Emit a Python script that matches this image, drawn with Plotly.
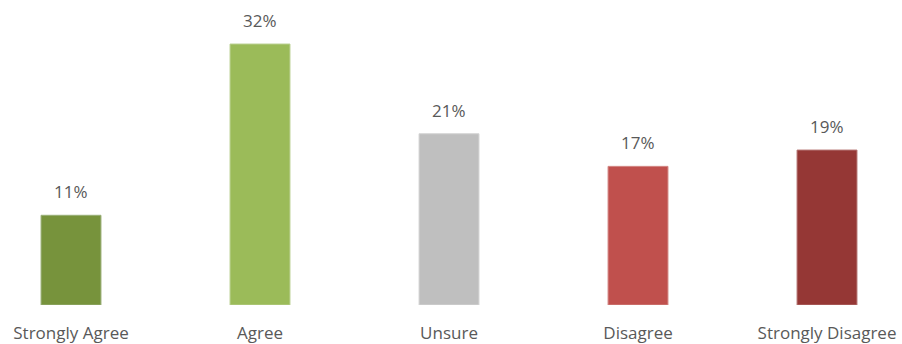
import plotly.graph_objects as go

categories = ["Strongly Agree", "Agree", "Unsure", "Disagree", "Strongly Disagree"]
values = [11, 32, 21, 17, 19]
labels = ["11%", "32%", "21%", "17%", "19%"]
colors = ["#77933C", "#9BBB59", "#BFBFBF", "#C0504D", "#953735"]
edge_colors = ["#9AAF78", "#B9CF8F", "#D4D4D4", "#D38885", "#B57573"]

FONT = "Open Sans, Lato, sans-serif"
TEXT_COLOR = "#595959"

fig = go.Figure(
    go.Bar(
        x=list(range(len(categories))),
        y=values,
        marker=dict(color=colors, line=dict(color=edge_colors, width=1)),
        width=0.317,
    )
)

# value labels placed above each bar
for i, (v, lab) in enumerate(zip(values, labels)):
    fig.add_annotation(
        x=i, y=v, text=lab, showarrow=False,
        yanchor="bottom", yshift=10,
        font=dict(family=FONT, size=17, color=TEXT_COLOR),
    )

fig.update_layout(
    width=902,
    height=344,
    margin=dict(l=0, r=0, t=0, b=39),
    plot_bgcolor="white",
    paper_bgcolor="white",
    showlegend=False,
    xaxis=dict(
        range=[-0.3757, 4.3968],
        tickmode="array",
        tickvals=list(range(len(categories))),
        ticktext=categories,
        showgrid=False,
        zeroline=False,
        showline=False,
        ticks="outside",
        ticklen=13,
        tickcolor="rgba(0,0,0,0)",
        tickfont=dict(family=FONT, size=17, color=TEXT_COLOR),
    ),
    yaxis=dict(
        range=[0, 37.4],
        visible=False,
        showgrid=False,
        zeroline=False,
    ),
)

fig.write_html("out.html")
